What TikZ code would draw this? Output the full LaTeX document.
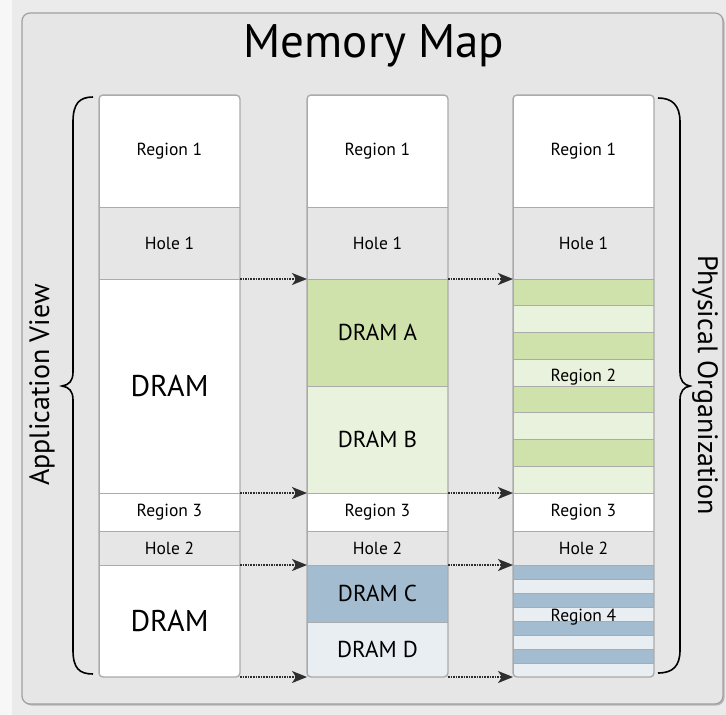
\documentclass[tikz,border=0pt]{standalone}
\usepackage{fontspec}
\setmainfont{PT Sans}
\usetikzlibrary{arrows.meta}
\definecolor{bgout}{HTML}{EBEBEB}
\definecolor{framefill}{HTML}{E6E6E6}
\definecolor{framedraw}{HTML}{A0A0A0}
\definecolor{holefill}{HTML}{E6E6E6}
\definecolor{sepgray}{HTML}{ABABAB}
\definecolor{gdark}{HTML}{CFE2AB}
\definecolor{glight}{HTML}{E9F2DD}
\definecolor{bdark}{HTML}{A3BCCF}
\definecolor{blight}{HTML}{E9EEF3}
\definecolor{arrowgray}{HTML}{2E2E2E}
\tikzset{
 seg/.style={rectangle, draw=sepgray, line width=1pt, inner sep=0pt, outer sep=0pt, anchor=north west, minimum width=141pt, font=\fontsize{17.5}{20}\selectfont, text=black},
 big/.style={font=\fontsize{30}{34}\selectfont},
 mid/.style={font=\fontsize{23}{27}\selectfont},
 small/.style={font=\fontsize{17.5}{20}\selectfont},
 colframe/.style={draw=sepgray, line width=1.4pt, rounded corners=4pt},
 mapto/.style={draw=arrowgray, line width=1.9pt, dash pattern=on 1.5pt off 1.1pt, -{Stealth[length=15pt,width=12pt,inset=4pt]}},
 bracepath/.style={draw=black, line width=1.6pt},
 sidelabel/.style={font=\fontsize{28}{32}\selectfont},
}
\begin{document}
\begin{tikzpicture}[x=1pt,y=-1pt]
\useasboundingbox (0,0) rectangle (726,715);
\fill[bgout] (0,0) rectangle (726,715);
\fill[white!60!bgout] (0,0) rectangle (12,715);
\fill[framedraw!70!bgout, rounded corners=8pt] (23.5,14.5) rectangle (724.5,705.5);
\draw[fill=framefill, draw=framedraw, line width=1.2pt, rounded corners=8pt] (22,13) rectangle (723,704);

\node[anchor=base, font=\fontsize{47}{50}\selectfont] (title) at (374,57) {Memory Map};

% column 1
\begin{scope}
\clip[rounded corners=4pt] (99,95) rectangle (240,677);
\node[seg, fill=white, minimum height=112pt] (a1) at (99,95) {Region 1};
\node[seg, fill=holefill, minimum height=72pt] (a2) at (99,207) {Hole 1};
\node[seg, fill=white, minimum height=214pt, big] (a3) at (99,279) {DRAM};
\node[seg, fill=white, minimum height=38pt] (a4) at (99,493) {Region 3};
\node[seg, fill=holefill, minimum height=34pt] (a5) at (99,531) {Hole 2};
\node[seg, fill=white, minimum height=112pt, big] (a6) at (99,565) {DRAM};
\end{scope}
\draw[colframe] (99,95) rectangle (240,677);

% column 2
\begin{scope}
\clip[rounded corners=4pt] (307,95) rectangle (448,677);
\node[seg, fill=white, minimum height=112pt] (b1) at (307,95) {Region 1};
\node[seg, fill=holefill, minimum height=72pt] (b2) at (307,207) {Hole 1};
\node[seg, fill=gdark, minimum height=107pt, mid] (b3) at (307,279) {DRAM A};
\node[seg, fill=glight, minimum height=107pt, mid] (b4) at (307,386) {DRAM B};
\node[seg, fill=white, minimum height=38pt] (b5) at (307,493) {Region 3};
\node[seg, fill=holefill, minimum height=34pt] (b6) at (307,531) {Hole 2};
\node[seg, fill=bdark, minimum height=57pt, mid] (b7) at (307,565) {DRAM C};
\node[seg, fill=blight, minimum height=55pt, mid] (b8) at (307,622) {DRAM D};
\end{scope}
\draw[colframe] (307,95) rectangle (448,677);

% column 3
\begin{scope}
\clip[rounded corners=4pt] (513,95) rectangle (654,677);
\node[seg, fill=white, minimum height=112pt] (c1) at (513,95) {Region 1};
\node[seg, fill=holefill, minimum height=72pt] (c2) at (513,207) {Hole 1};
\foreach \i/\col in {0/gdark,1/glight,2/gdark,3/glight,4/gdark,5/glight,6/gdark,7/glight}
  \node[seg, fill=\col, minimum height=26.75pt] (g\i) at (513,{279+\i*26.75}) {};
\node[seg, fill=white, minimum height=38pt] (c4) at (513,493) {Region 3};
\node[seg, fill=holefill, minimum height=34pt] (c5) at (513,531) {Hole 2};
\foreach \i/\col in {0/bdark,1/blight,2/bdark,3/blight,4/bdark,5/blight,6/bdark,7/blight}
  \node[seg, fill=\col, minimum height=14pt] (t\i) at (513,{565+\i*14}) {};
\end{scope}
\node[small] (r2) at (583.5,377) {Region 2};
\node[small] (r4) at (583.5,617) {Region 4};
\draw[colframe] (513,95) rectangle (654,677);

% mapping arrows
\draw[mapto] (a2.south east) -- (b2.south west);
\draw[mapto] (b2.south east) -- (c2.south west);
\draw[mapto] (a3.south east) -- (b4.south west);
\draw[mapto] (b4.south east) -- (g7.south west);
\draw[mapto] (a5.south east) -- (b6.south west);
\draw[mapto] (b6.south east) -- (c5.south west);
\draw[mapto] (a6.south east) -- (b8.south west);
\draw[mapto] (b8.south east) -- (t7.south west);

% braces
\draw[bracepath] (93,97) .. controls (79,97) and (73,104) .. (73,122) -- (73,372) .. controls (73,381) and (69,385) .. (62,386) .. controls (69,387) and (73,391) .. (73,400) -- (73,650) .. controls (73,668) and (79,674) .. (93,674);
\draw[bracepath] (658,98) .. controls (672,98) and (680,105) .. (680,122) -- (680,372) .. controls (680,381) and (684,385) .. (690,386) .. controls (684,387) and (680,391) .. (680,400) -- (680,650) .. controls (680,666) and (673,673) .. (658,673);

\node[sidelabel, rotate=90] (appview) at (42,385) {Application View};
\node[sidelabel, rotate=-90] (physorg) at (705,385) {Physical Organization};
\end{tikzpicture}
\end{document}
